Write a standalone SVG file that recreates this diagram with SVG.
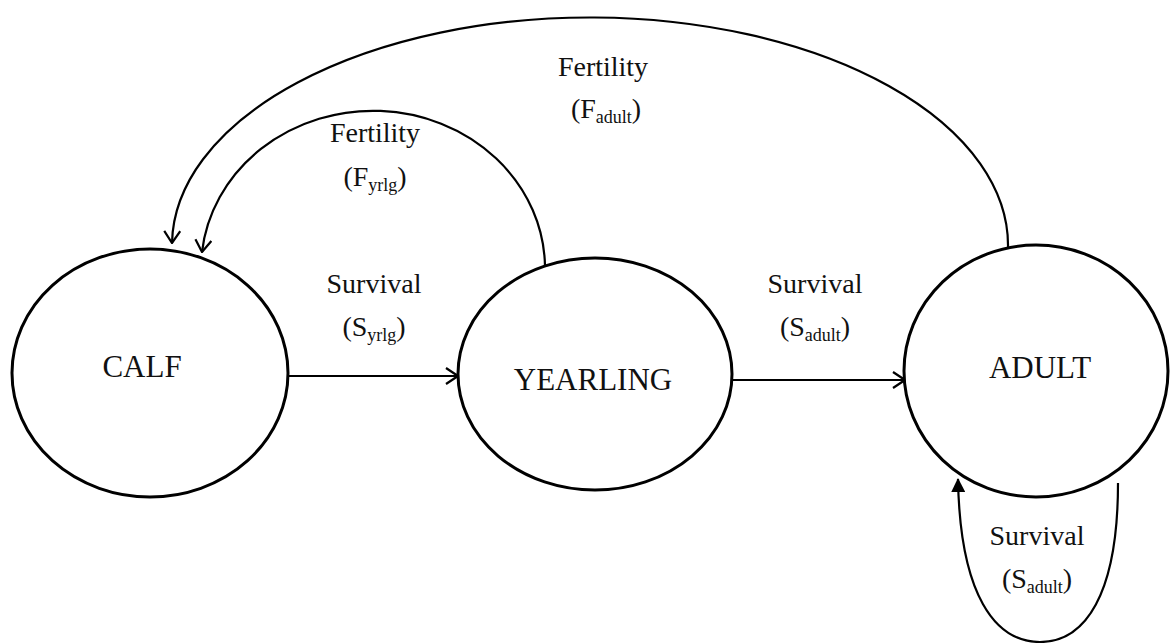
<svg xmlns="http://www.w3.org/2000/svg" width="1170" height="643" viewBox="0 0 1170 643">
<style>
.node{fill:#fff;stroke:#000;stroke-width:3}
.ntext{font-family:"Liberation Serif","Times New Roman",serif;font-size:31px;fill:#111;text-anchor:middle}
.lbl{font-family:"Liberation Serif","Times New Roman",serif;font-size:28px;fill:#111;text-anchor:middle}
.sub{font-size:18px}
.edge{fill:none;stroke:#000;stroke-width:2.2}
</style>
<defs>
<marker id="chev" viewBox="0 0 14 18" refX="13" refY="9" markerWidth="14" markerHeight="18" markerUnits="userSpaceOnUse" orient="auto">
<path d="M1,1 L13,9 L1,17" fill="none" stroke="#000" stroke-width="2.2"/>
</marker>
<marker id="tri" viewBox="0 0 14 14" refX="13" refY="7" markerWidth="14" markerHeight="14" markerUnits="userSpaceOnUse" orient="auto">
<path d="M0,0 L14,7 L0,14 Z" fill="#000"/>
</marker>
</defs>
<g id="connectors">
<path class="edge" d="M288,376 L458,376" marker-end="url(#chev)"/>
<path class="edge" d="M733,380 L905,380" marker-end="url(#chev)"/>
<path class="edge" d="M1008,248 A418,228 0 0 0 172,243" marker-end="url(#chev)"/>
<path class="edge" d="M545,266 A172,158 0 0 0 202,252" marker-end="url(#chev)"/>
<path class="edge" d="M1118,483 C1118,595 1085,642 1040,642 C995,642 960,595 958,479" marker-end="url(#tri)"/>
</g>
<g id="calf">
<ellipse class="node" cx="150" cy="373" rx="138" ry="124"/>
<text class="ntext" x="142" y="377">CALF</text>
</g>
<g id="yearling">
<ellipse class="node" cx="595" cy="374" rx="137" ry="116"/>
<text class="ntext" x="593" y="390">YEARLING</text>
</g>
<g id="adult">
<ellipse class="node" cx="1036" cy="371" rx="132" ry="126"/>
<text class="ntext" x="1040" y="378">ADULT</text>
</g>
<g id="labels">
<text class="lbl" x="603" y="76">Fertility</text>
<text class="lbl" x="606" y="118">(F<tspan class="sub" dy="5">adult</tspan><tspan dy="-5">)</tspan></text>
<text class="lbl" x="375" y="142">Fertility</text>
<text class="lbl" x="375" y="186">(F<tspan class="sub" dy="5">yrlg</tspan><tspan dy="-5">)</tspan></text>
<text class="lbl" x="374" y="293">Survival</text>
<text class="lbl" x="374" y="336">(S<tspan class="sub" dy="5">yrlg</tspan><tspan dy="-5">)</tspan></text>
<text class="lbl" x="815" y="293">Survival</text>
<text class="lbl" x="815" y="336">(S<tspan class="sub" dy="5">adult</tspan><tspan dy="-5">)</tspan></text>
<text class="lbl" x="1037" y="545">Survival</text>
<text class="lbl" x="1037" y="588">(S<tspan class="sub" dy="5">adult</tspan><tspan dy="-5">)</tspan></text>
</g>
</svg>
